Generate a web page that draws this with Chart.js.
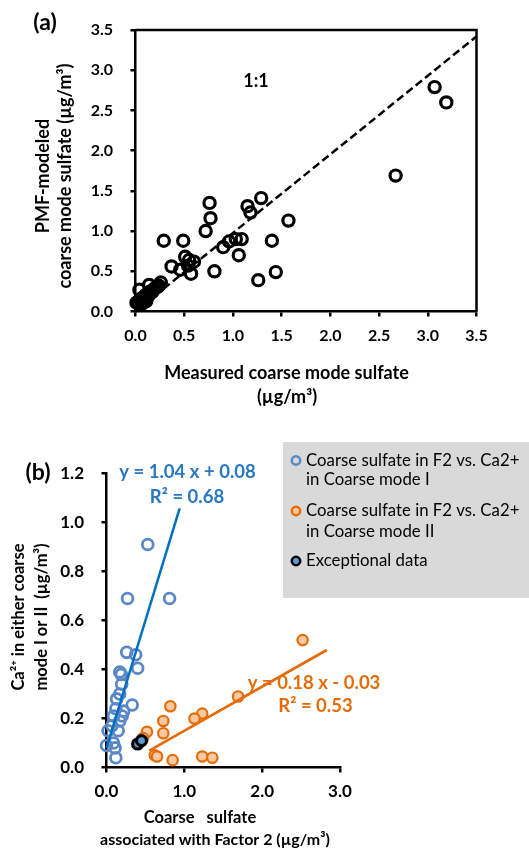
<!DOCTYPE html>
<html>
<head>
<meta charset="utf-8">
<script src="https://cdn.jsdelivr.net/npm/chart.js@4.4.1/dist/chart.umd.min.js"></script>
<style>
  body { margin: 0; background: #fff; }
  #wrap { position: relative; width: 529px; height: 849px; }
  canvas { position: absolute; left: 0; }
  #chartA { top: 0; }
  #chartB { top: 410px; }
</style>
</head>
<body>
<div id="wrap">
  <canvas id="chartA" width="529" height="410"></canvas>
  <canvas id="chartB" width="529" height="439"></canvas>
</div>
<script>
const FONT = 'Lato, "Open Sans", "DejaVu Sans", sans-serif';

// (a) measured vs PMF-modeled coarse mode sulfate, ug/m3
const measuredSulfate = [3.07, 3.19, 2.67, 1.29, 1.15, 1.18, 1.57, 0.76, 0.77, 0.72,
  0.29, 0.49, 1.40, 1.09, 1.03, 0.96, 0.90, 1.06, 0.81, 1.44, 1.26, 0.37, 0.51, 0.55,
  0.60, 0.54, 0.46, 0.57, 0.26, 0.23, 0.14, 0.04, 0.01, 0.03, 0.05, 0.07, 0.09, 0.10,
  0.12, 0.13, 0.15, 0.17, 0.19, 0.21, 0.06, 0.08, 0.11, 0.24];
const modeledSulfate = [2.79, 2.60, 1.69, 1.41, 1.31, 1.23, 1.13, 1.35, 1.16, 1.00,
  0.88, 0.88, 0.88, 0.90, 0.90, 0.87, 0.80, 0.70, 0.50, 0.49, 0.39, 0.56, 0.68, 0.64,
  0.62, 0.57, 0.52, 0.47, 0.36, 0.31, 0.33, 0.27, 0.11, 0.12, 0.15, 0.17, 0.16, 0.20,
  0.22, 0.19, 0.25, 0.24, 0.28, 0.30, 0.09, 0.11, 0.13, 0.32];
const oneToOneX = [0, 3.5];
const oneToOneY = [0, 3.42];
const tickLabelsA = ['0.0', '0.5', '1.0', '1.5', '2.0', '2.5', '3.0', '3.5'];

// (b) coarse sulfate in factor 2 vs Ca2+ in coarse modes I / II
const sulfateModeI = [0.53, 0.27, 0.81, 0.26, 0.375, 0.40, 0.17, 0.19, 0.195, 0.17,
  0.13, 0.33, 0.09, 0.22, 0.17, 0.02, 0.15, 0.0, 0.09, 0.11, 0.12, 0.12, 0.07, 0.20];
const calciumModeI = [0.91, 0.69, 0.69, 0.47, 0.46, 0.405, 0.39, 0.38, 0.34, 0.30,
  0.28, 0.255, 0.21, 0.23, 0.19, 0.15, 0.15, 0.09, 0.10, 0.08, 0.04, 0.24, 0.17, 0.21];
const sulfateModeII = [2.52, 1.69, 0.82, 1.23, 1.13, 0.73, 0.73, 0.52, 0.47, 0.62,
  0.65, 0.85, 1.23, 1.36];
const calciumModeII = [0.52, 0.29, 0.25, 0.22, 0.20, 0.19, 0.14, 0.146, 0.12, 0.05,
  0.045, 0.03, 0.045, 0.04];
const sulfateExceptional = [0.40, 0.45];
const calciumExceptional = [0.096, 0.11];
const fitSlope = [1.04, 0.18];
const fitIntercept = [0.08, -0.03];
const fitR2 = [0.68, 0.53];
const fitXStart = [0, 0.55];
const fitXEnd = [0.94, 2.83];
const tickLabelsBx = ['0.0', '1.0', '2.0', '3.0'];
const tickLabelsBy = ['0.0', '0.2', '0.4', '0.6', '0.8', '1.0', '1.2'];
const seriesNames = [
  ['Coarse sulfate in F2 vs. Ca2+', 'in Coarse mode I'],
  ['Coarse sulfate in F2 vs. Ca2+', 'in Coarse mode II'],
  ['Exceptional data']
];

function pairs(xs, ys) {
  return xs.map((x, i) => ({ x: x, y: ys[i] }));
}

function fitLine(i) {
  const xs = [fitXStart[i], fitXEnd[i]];
  return xs.map(x => ({ x: x, y: fitSlope[i] * x + fitIntercept[i] }));
}

function equation(i) {
  const b = fitIntercept[i];
  return 'y = ' + fitSlope[i].toFixed(2) + ' x ' + (b < 0 ? '- ' : '+ ') + Math.abs(b).toFixed(2);
}

function label(ctx, str, x, y, size, opts) {
  opts = opts || {};
  ctx.save();
  ctx.font = (opts.weight || 'bold') + ' ' + size + 'px ' + FONT;
  ctx.fillStyle = opts.color || '#000';
  ctx.textAlign = opts.align || 'center';
  ctx.textBaseline = 'middle';
  ctx.translate(x, y);
  if (opts.rotate) ctx.rotate(opts.rotate);
  ctx.fillText(str, 0, 0);
  ctx.restore();
}

function linearAxis(min, max, step, labels, fontSize, labelPad, fit) {
  return {
    type: 'linear',
    min: min,
    max: max,
    ticks: {
      stepSize: step,
      autoSkip: false,
      maxRotation: 0,
      padding: labelPad,
      color: '#000',
      font: { family: FONT, size: fontSize, weight: 'bold' },
      callback: (v, i) => labels[i]
    },
    grid: { drawOnChartArea: false, drawTicks: true, tickLength: 5, color: '#000', lineWidth: 2.5 },
    border: { display: true, color: '#000', width: 2.5 },
    afterFit: fit
  };
}

function markers(radius, width, stroke, fill) {
  return {
    pointStyle: 'circle',
    pointRadius: radius,
    pointBorderWidth: width,
    pointBorderColor: stroke,
    pointBackgroundColor: fill,
    borderColor: stroke,
    backgroundColor: fill,
    clip: false
  };
}

const baseOptions = {
  responsive: false,
  animation: false,
  devicePixelRatio: 1,
  plugins: { legend: { display: false }, tooltip: { enabled: false } }
};

// top & right frame lines plus the texts of panel (a)
const panelA = {
  id: 'panelA',
  beforeDatasetsDraw(chart) {
    const { ctx, chartArea: a } = chart;
    ctx.save();
    ctx.strokeStyle = '#000';
    ctx.lineWidth = 2.5;
    ctx.beginPath();
    ctx.moveTo(a.left, a.top);
    ctx.lineTo(a.right, a.top);
    ctx.lineTo(a.right, a.bottom);
    ctx.stroke();
    ctx.restore();
  },
  afterDraw(chart) {
    const ctx = chart.ctx;
    label(ctx, '(a)', 45, 23, 23);
    label(ctx, '1:1', 256, 81, 18);
    label(ctx, 'PMF-modeled', 43, 176, 18, { rotate: -Math.PI / 2 });
    label(ctx, 'coarse mode sulfate (µg/m³)', 65, 176, 18, { rotate: -Math.PI / 2 });
    label(ctx, 'Measured coarse mode sulfate', 286.5, 373, 18);
    label(ctx, '(µg/m³)', 287, 397, 18);
  }
};

new Chart(document.getElementById('chartA'), {
  type: 'scatter',
  data: {
    datasets: [
      Object.assign({ data: pairs(measuredSulfate, modeledSulfate) },
        markers(5.6, 3.2, '#000', 'rgba(0,0,0,0)')),
      {
        data: pairs(oneToOneX, oneToOneY),
        showLine: true,
        pointRadius: 0,
        borderColor: '#000',
        borderWidth: 2.5,
        borderDash: [8, 4],
        clip: false
      }
    ]
  },
  options: Object.assign({}, baseOptions, {
    layout: { padding: { top: 30, right: 52.5, left: 0, bottom: 0 } },
    scales: {
      x: linearAxis(0, 3.5, 0.5, tickLabelsA, 16, 10, s => { s.height = 98.5; }),
      y: linearAxis(0, 3.5, 0.5, tickLabelsA, 16, 17.5, s => { s.width = 135.5; })
    }
  }),
  plugins: [panelA]
});

// legend box, regression equations and axis titles of panel (b)
const panelB = {
  id: 'panelB',
  beforeDraw(chart) {
    const ctx = chart.ctx;
    ctx.save();
    ctx.fillStyle = '#d9d9d9';
    ctx.fillRect(283, 32, 246, 156);
    ctx.restore();
  },
  afterDraw(chart) {
    const ctx = chart.ctx;
    label(ctx, '(b)', 38, 63, 23);
    label(ctx, 'Ca²⁺ in either coarse', 19, 207, 16.5, { rotate: -Math.PI / 2 });
    label(ctx, 'mode I or II  (µg/m³)', 42, 207, 16.5, { rotate: -Math.PI / 2 });
    label(ctx, 'Coarse   sulfate', 200, 408, 16.5);
    label(ctx, 'associated with Factor 2 (µg/m³)', 215, 430, 16);

    label(ctx, equation(0), 187.5, 62, 18.5, { color: '#2777c1' });
    label(ctx, 'R² = ' + fitR2[0].toFixed(2), 187, 87, 18.5, { color: '#2777c1' });
    label(ctx, equation(1), 314, 273, 18.5, { color: '#e46c0a' });
    label(ctx, 'R² = ' + fitR2[1].toFixed(2), 315.5, 296, 18.5, { color: '#e46c0a' });

    // legend entries take their marker style from the scatter datasets
    const entries = [chart.data.datasets[4], chart.data.datasets[3], chart.data.datasets[2]];
    const rows = [[50.5, 69.7], [101, 121.3], [151]];
    entries.forEach((ds, i) => {
      ctx.save();
      ctx.beginPath();
      ctx.arc(296, rows[i][0], 4.2, 0, Math.PI * 2);
      ctx.fillStyle = ds.pointBackgroundColor;
      ctx.fill();
      ctx.lineWidth = 2.5;
      ctx.strokeStyle = ds.pointBorderColor;
      ctx.stroke();
      ctx.restore();
      seriesNames[i].forEach((line, j) => {
        label(ctx, line, 306, rows[i][j], 16.8, { weight: 'normal', align: 'left' });
      });
    });
  }
};

new Chart(document.getElementById('chartB'), {
  type: 'scatter',
  data: {
    datasets: [
      {
        label: 'fit I',
        data: fitLine(0),
        showLine: true,
        pointRadius: 0,
        borderColor: '#0070c0',
        borderWidth: 2.5,
        clip: false
      },
      {
        label: 'fit II',
        data: fitLine(1),
        showLine: true,
        pointRadius: 0,
        borderColor: '#e46c0a',
        borderWidth: 2.7,
        clip: false
      },
      Object.assign({ label: seriesNames[2].join(' '), data: pairs(sulfateExceptional, calciumExceptional) },
        markers(5, 3.2, '#000', '#5b9bd5')),
      Object.assign({ label: seriesNames[1].join(' '), data: pairs(sulfateModeII, calciumModeII) },
        markers(5.2, 2.2, '#e46c0a', '#f9c9a4')),
      Object.assign({ label: seriesNames[0].join(' '), data: pairs(sulfateModeI, calciumModeI) },
        markers(5.4, 2.8, '#5a87c6', 'rgba(0,0,0,0)'))
    ]
  },
  options: Object.assign({}, baseOptions, {
    layout: { padding: { top: 63.5, right: 189, left: 0, bottom: 0 } },
    scales: {
      x: linearAxis(0, 3, 1, tickLabelsBx, 17, 9, s => { s.height = 81.5; }),
      y: linearAxis(0, 1.2, 0.2, tickLabelsBy, 17, 17.5, s => { s.width = 106.5; })
    }
  }),
  plugins: [panelB]
});
</script>
</body>
</html>
